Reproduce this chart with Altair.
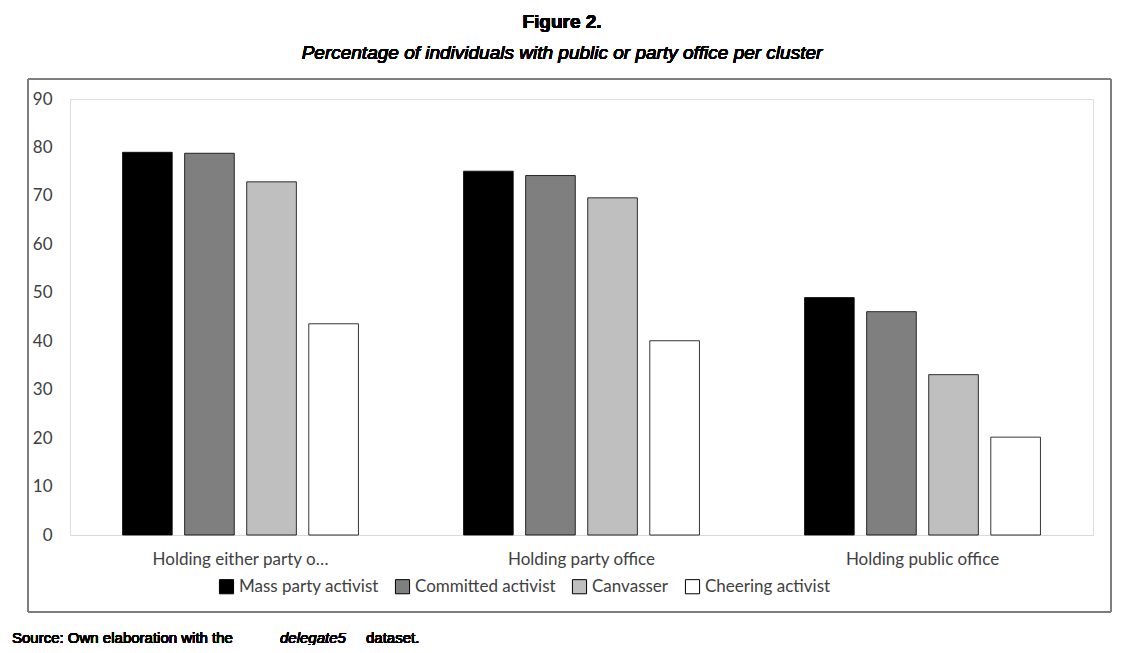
import altair as alt
import pandas as pd

groups = ["Holding either party or public office", "Holding party office", "Holding public office"]
clusters = ["Mass party activist", "Committed activist", "Canvasser", "Cheering activist"]
colors = ["#000000", "#7f7f7f", "#bfbfbf", "#ffffff"]
values = [
    [79.0, 78.8, 72.9, 43.6],
    [75.1, 74.2, 69.6, 40.1],
    [49.0, 46.1, 33.1, 20.2],
]

rows = []
for g, vals in zip(groups, values):
    for c, v in zip(clusters, vals):
        rows.append({"group": g, "cluster": c, "value": v})
df = pd.DataFrame(rows)

W, H = 1023, 436

bars = alt.Chart(df).mark_bar(stroke="#000000", strokeWidth=0.8).encode(
    x=alt.X("group:N", sort=groups, title=None,
            scale=alt.Scale(paddingInner=0.25, paddingOuter=0.125),
            axis=alt.Axis(labelAngle=0, ticks=False, domainColor="#d9d9d9",
                          labelFont="Lato", labelFontSize=17, labelColor="#404040",
                          labelPadding=16)),
    xOffset=alt.XOffset("cluster:N", sort=clusters,
                        scale=alt.Scale(paddingInner=0.2, paddingOuter=0.16)),
    y=alt.Y("value:Q", title=None,
            scale=alt.Scale(domain=[0, 90]),
            axis=alt.Axis(values=list(range(0, 100, 10)), domain=False, ticks=False,
                          grid=False, labelFont="Lato", labelFontSize=17,
                          labelColor="#404040", labelPadding=18)),
    color=alt.Color("cluster:N", sort=clusters, title=None,
                    scale=alt.Scale(domain=clusters, range=colors),
                    legend=alt.Legend(orient="none", legendX=148, legendY=479,
                                      direction="horizontal", symbolType="square",
                                      symbolSize=200, symbolStrokeColor="#000000",
                                      symbolStrokeWidth=1, symbolOpacity=1,
                                      labelFont="Lato", labelFontSize=17,
                                      labelColor="#404040", columnPadding=14,
                                      labelOffset=4)),
)

frame = alt.Chart(df).mark_rect(fill=None, stroke="#7f7f7f", strokeWidth=1).encode(
    x=alt.value(-42), x2=alt.value(1041), y=alt.value(-20), y2=alt.value(513)
)

title1 = alt.Chart(df).mark_text(font="Liberation Sans", fontSize=19, fontWeight="bold",
                                 color="#000000").encode(
    x=alt.value(492), y=alt.value(-77), text=alt.value("Figure 2.")
)
title2 = alt.Chart(df).mark_text(font="Liberation Sans", fontSize=19, fontStyle="italic",
                                 color="#000000").encode(
    x=alt.value(492), y=alt.value(-46),
    text=alt.value("Percentage of individuals with public or party office per cluster")
)
src1 = alt.Chart(df).mark_text(font="Liberation Sans", fontSize=15, align="left",
                               color="#000000").encode(
    x=alt.value(-58), y=alt.value(539), text=alt.value("Source: Own elaboration with the")
)
src2 = alt.Chart(df).mark_text(font="Liberation Sans", fontSize=15, align="left",
                               fontStyle="italic", color="#000000").encode(
    x=alt.value(210), y=alt.value(539), text=alt.value("delegate5")
)
src3 = alt.Chart(df).mark_text(font="Liberation Sans", fontSize=15, align="left",
                               color="#000000").encode(
    x=alt.value(296), y=alt.value(539), text=alt.value("dataset.")
)

chart = alt.layer(frame, bars, title1, title2, src1, src2, src3).properties(
    width=W, height=H,
    autosize=alt.AutoSizeParams(type="none"),
    padding={"left": 62, "top": 91, "right": 28, "bottom": 110},
).configure_view(stroke=None).configure(background="#ffffff")

chart.save("out.html", embed_options={"renderer": "svg", "actions": False})
